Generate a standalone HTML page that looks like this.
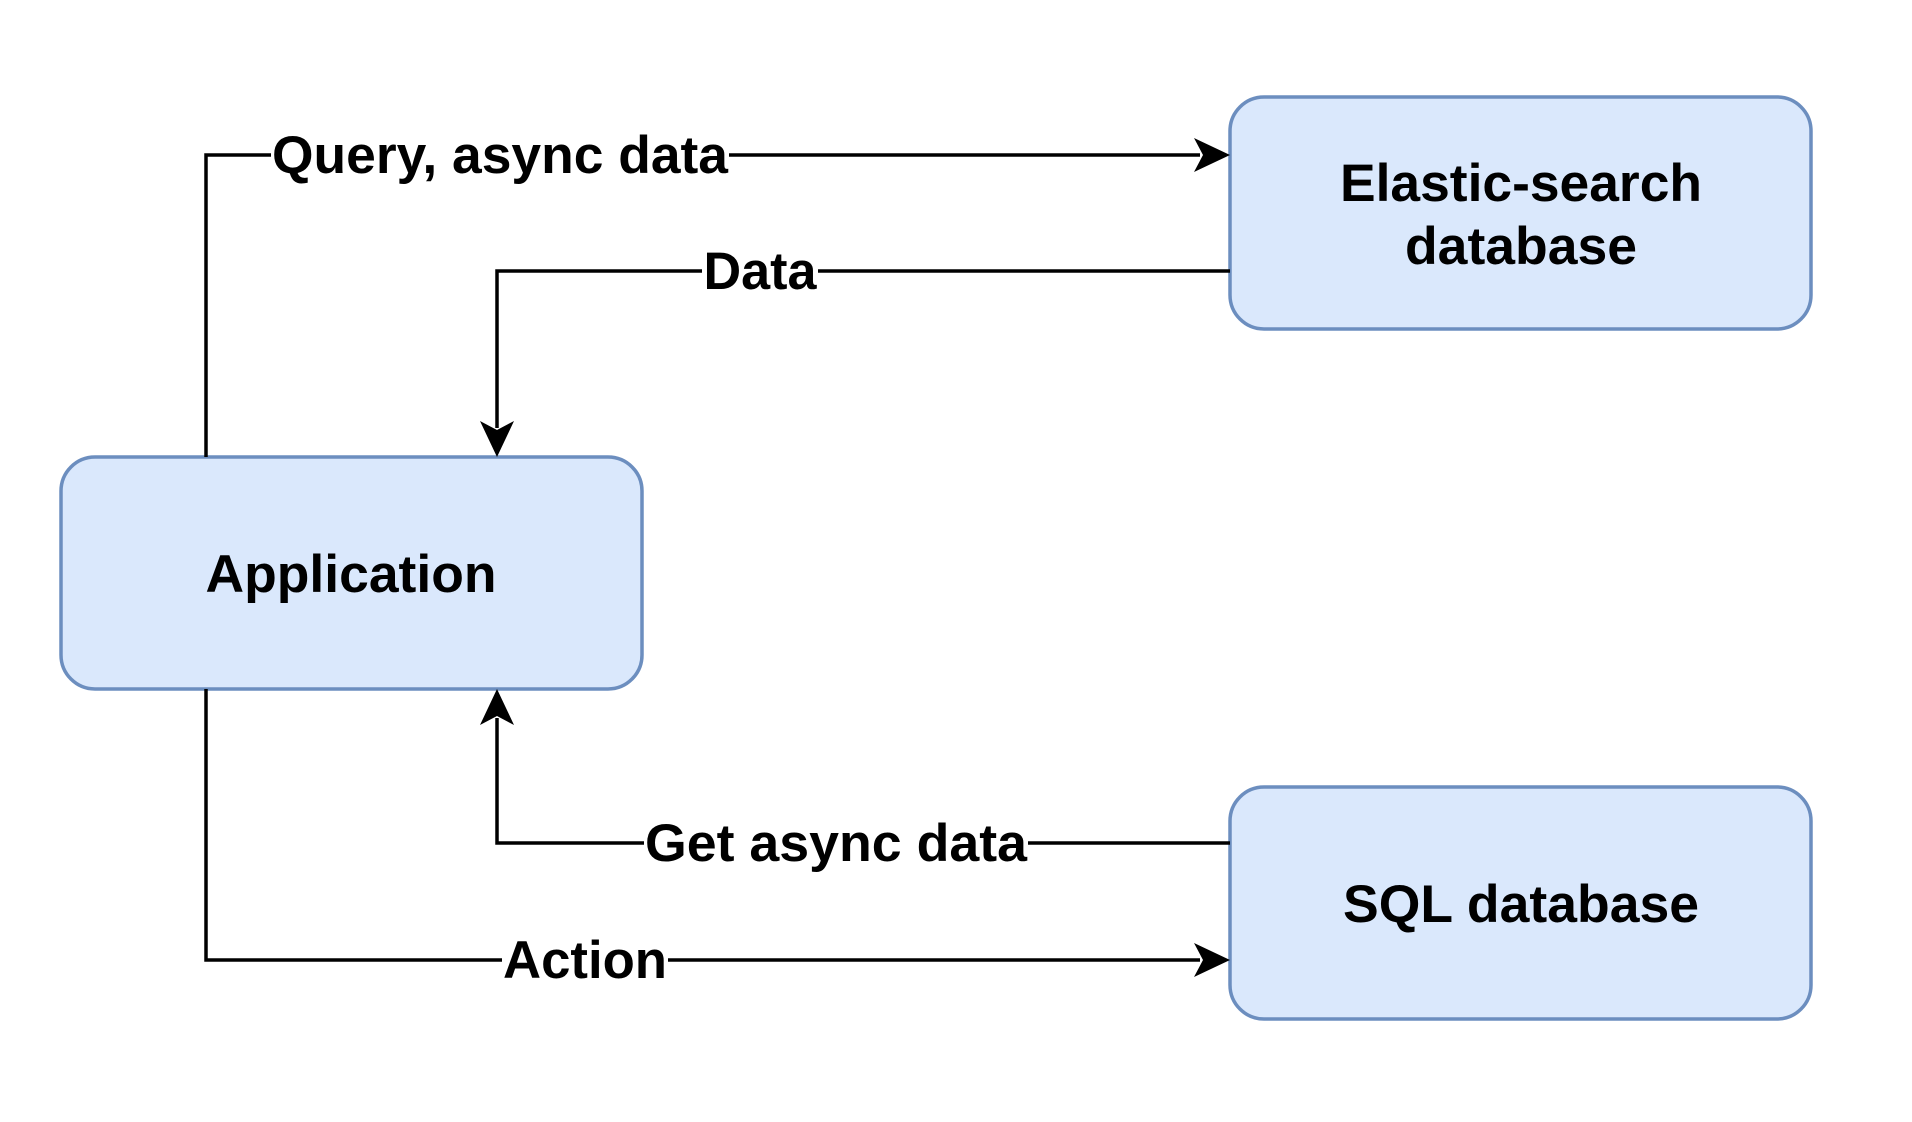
<!DOCTYPE html>
<html><head><meta charset="utf-8"><style>
html,body{margin:0;padding:0;background:#fff;}
svg{display:block;}
text{font-family:"Liberation Sans",Arial,sans-serif;font-weight:bold;font-size:53px;fill:#000;}
</style></head><body>
<svg width="1912" height="1122" viewBox="0 0 1912 1122" xmlns="http://www.w3.org/2000/svg">
<g fill="#dae8fc" stroke="#6c8ebf" stroke-width="3.5">
<rect x="1230" y="97" width="581" height="232" rx="34"/>
<rect x="61" y="457" width="581" height="232" rx="34"/>
<rect x="1230" y="787" width="581" height="232" rx="34"/>
</g>
<g fill="none" stroke="#000" stroke-width="3.5">
<polyline points="206,457 206,155 1200,155"/>
<polyline points="1230,271 497,271 497,428"/>
<polyline points="1230,843 497,843 497,718"/>
<polyline points="206,689 206,960 1200,960"/>
</g>
<g fill="#000">
<polygon points="1230,155 1194,138 1203,155 1194,172"/>
<polygon points="1230,960 1194,943 1203,960 1194,977"/>
<polygon points="497,457 480,421 497,430 514,421"/>
<polygon points="497,689 480,725 497,716 514,725"/>
</g>
<g text-anchor="middle">
<rect x="271" y="125" width="458" height="60" fill="#fff"/>
<text x="500" y="173" textLength="456" lengthAdjust="spacingAndGlyphs">Query, async data</text>
<rect x="702" y="241" width="116" height="60" fill="#fff"/>
<text x="760" y="289" textLength="113" lengthAdjust="spacingAndGlyphs">Data</text>
<rect x="644" y="813" width="384" height="60" fill="#fff"/>
<text x="836" y="861" textLength="382" lengthAdjust="spacingAndGlyphs">Get async data</text>
<rect x="502" y="930" width="166" height="60" fill="#fff"/>
<text x="585" y="978" textLength="164" lengthAdjust="spacingAndGlyphs">Action</text>
<text x="1521" y="201" textLength="362" lengthAdjust="spacingAndGlyphs">Elastic-search</text>
<text x="1521" y="264" textLength="232" lengthAdjust="spacingAndGlyphs">database</text>
<text x="351" y="592" textLength="291" lengthAdjust="spacingAndGlyphs">Application</text>
<text x="1521" y="922" textLength="356" lengthAdjust="spacingAndGlyphs">SQL database</text>
</g>
</svg>
</body></html>
